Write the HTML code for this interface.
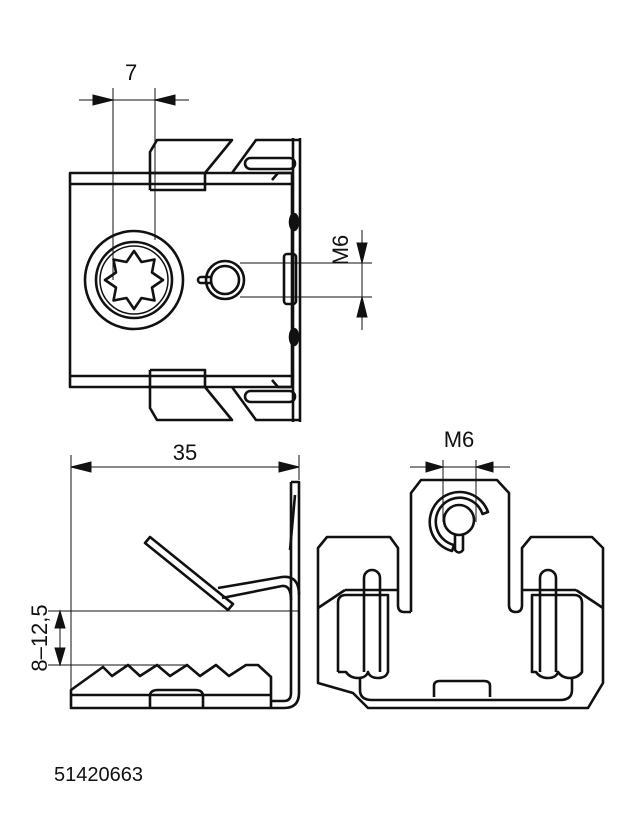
<!DOCTYPE html>
<html><head><style>body{margin:0;background:#fff}svg{display:block}</style></head>
<body>
<svg width="630" height="821" viewBox="0 0 630 821" xmlns="http://www.w3.org/2000/svg" font-family="Liberation Sans, sans-serif">
<g fill="none" stroke="#111" stroke-width="2.6" stroke-linejoin="round">
<!-- TOP VIEW -->
<rect x="70" y="173" width="222" height="214"/>
<line x1="70" y1="184" x2="292" y2="184"/>
<line x1="70" y1="376" x2="292" y2="376"/>
<line x1="293" y1="138" x2="293" y2="422"/>
<line x1="300" y1="138" x2="300" y2="422"/>
<path d="M150 190 V152 L157 140 H232 L205 173"/>
<path d="M150 173 H205 V190 H150"/>
<path d="M150 370 V408 L157 420 H232 L205 387"/>
<path d="M150 370 H205 V387 H150"/>
<path d="M232 173 L256 140 H300"/>
<path d="M232 387 L256 420 H300"/>
<rect x="245" y="158" width="50" height="11" rx="5.5"/>
<rect x="245" y="391" width="50" height="11" rx="5.5"/>
<path d="M272 180 L278 173 L292 173"/>
<path d="M272 380 L278 387 L292 387"/>
<circle cx="134" cy="280" r="49"/>
<circle cx="134" cy="280" r="38"/>
<circle cx="134" cy="280" r="34" stroke-width="1.5"/>
<polygon points="134,251 141.5,262 154.5,259.5 152,272.5 163,280 152,287.5 154.5,300.5 141.5,298 134,309 126.5,298 113.5,300.5 116,287.5 105,280 116,272.5 113.5,259.5 126.5,262"/>
<circle cx="225" cy="280" r="19"/>
<circle cx="225" cy="280" r="14"/>
<path d="M211 277 H201 a3 3 0 0 0 0 6 H211"/>
<rect x="284" y="254" width="12" height="50" rx="3"/>
<ellipse cx="294" cy="222" rx="4" ry="8" fill="#111"/>
<ellipse cx="294" cy="337" rx="4" ry="8" fill="#111"/>
</g>
<!-- dims -->
<g stroke="#111" stroke-width="1" fill="#111">
<line x1="113" y1="88" x2="113" y2="280"/>
<line x1="155" y1="88" x2="155" y2="240"/>
<line x1="79" y1="100" x2="189" y2="100"/>
<polygon points="113,100 93,95 93,105"/>
<polygon points="155,100 175,95 175,105"/>
<line x1="240" y1="263" x2="372" y2="263"/>
<line x1="240" y1="297" x2="372" y2="297"/>
<line x1="362" y1="230" x2="362" y2="330"/>
<polygon points="362,263 357,243 367,243"/>
<polygon points="362,297 357,317 367,317"/>
<line x1="71" y1="455" x2="71" y2="708"/>
<line x1="299" y1="455" x2="299" y2="480"/>
<line x1="71" y1="467" x2="299" y2="467"/>
<polygon points="71,467 91,462 91,472"/>
<polygon points="299,467 279,462 279,472"/>
<line x1="48" y1="611" x2="299" y2="611"/>
<line x1="48" y1="665" x2="185" y2="665"/>
<line x1="60" y1="611" x2="60" y2="665"/>
<polygon points="60,611 55,628 65,628"/>
<polygon points="60,665 55,648 65,648"/>
<line x1="443" y1="460" x2="443" y2="522"/>
<line x1="476" y1="460" x2="476" y2="522"/>
<line x1="410" y1="467" x2="510" y2="467"/>
<polygon points="443,467 426,462 426,472"/>
<polygon points="476,467 493,462 493,472"/>
</g>
<g fill="#111" font-size="22">
<text x="125" y="80">7</text>
<text x="348" y="250" transform="rotate(-90 348 250)" text-anchor="middle">M6</text>
<text x="185" y="460" text-anchor="middle">35</text>
<text x="459" y="447" text-anchor="middle">M6</text>
<text x="47" y="638" transform="rotate(-90 47 638)" text-anchor="middle">8–12,5</text>
<text x="54" y="781" font-size="20">51420663</text>
</g>
<!-- SIDE VIEW -->
<g fill="none" stroke="#111" stroke-width="2.6" stroke-linejoin="round">
<path d="M291 482 H299 V693 Q299 708 284 708 H71 V690 L103 667 L112 676 L128 665 L140 676 L157 665 L170 676 L187 665 L200 676 L216 665 L229 676 L246 665 L258 665 L271 677 V708"/>
<line x1="71" y1="695" x2="271" y2="695"/>
<path d="M291 482 V693 Q291 701 284 701 H271"/>
<path d="M150 708 V696 Q150 690 158 690 H195 Q203 690 203 696 V708"/>
<path d="M145 543 L150 537 L233 604 L228 610 Z"/>
<path d="M218 588 L282 577 Q299 575 299 595"/>
<path d="M222 598 L282 586 Q291 585 291 600"/>
<path d="M295 495 L290 550"/>
</g>
<!-- FRONT VIEW -->
<g fill="none" stroke="#111" stroke-width="2.6" stroke-linejoin="round">
<path d="M411 612 V493 L421 480 H497 L509 493 V605 Q509 612 516 612 Q522 612 522 605 V548 L531 537 H592 L603 548 V683 L588 708 H368 L353 693 L318 683 V548 L327 537 H390 L398 548 V605 Q398 612 404 612 Q411 612 411 612"/>
<line x1="318" y1="608" x2="345" y2="590"/>
<line x1="603" y1="608" x2="576" y2="590"/>
<line x1="345" y1="590" x2="398" y2="590"/>
<line x1="522" y1="590" x2="576" y2="590"/>
<path d="M488 512 A30 30 0 1 0 452 551 L454 545 A24 24 0 1 1 482.5 514 Z" stroke-width="2.6"/>
<circle cx="459" cy="520" r="15"/>
<path d="M455 534 V550 Q459 555 463 550 V534"/>
<path d="M364 672 V578 a8 8 0 0 1 16 0 V672"/>
<path d="M540 672 V578 a8 8 0 0 1 16 0 V672"/>
<path d="M338 672 V603 Q338 595 346 595 H388 V672 Q386 678 378 678 Q370 678 368 672 Q366 678 358 678 Q350 678 346 672 Q338 672 338 672"/>
<path d="M532 672 V595 H574 Q582 595 582 603 V672 Q578 678 570 678 Q562 678 558 672 Q556 678 548 678 Q540 678 536 672 Z"/>
<path d="M360 678 V690 Q360 700 372 700 H560 Q572 700 572 690 V678"/>
<path d="M434 697 V686 Q434 681 440 681 H484 Q490 681 490 686 V697"/>
</g>
</svg>
</body></html>
